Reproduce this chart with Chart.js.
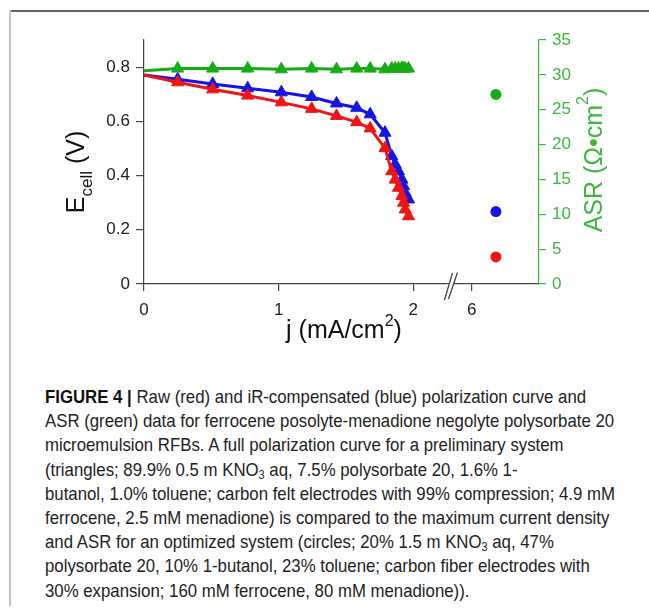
<!DOCTYPE html>
<html>
<head>
<meta charset="utf-8">
<script src="https://cdn.jsdelivr.net/npm/chart.js@4.4.1/dist/chart.umd.min.js"></script>
<style>
    html, body { margin: 0; padding: 0; background: #fff; }
    body { width: 649px; height: 612px; position: relative; overflow: hidden; }
    #frameTop { position: absolute; left: 9px; right: 0; top: 10px; border-top: 2px solid #666; }
    #frameLeft { position: absolute; left: 9px; top: 10px; height: 596px; border-left: 2px solid #c4c4c4; }
    #chartBox { position: absolute; left: 0; top: 0; width: 649px; height: 360px; }
    #caption {
        position: absolute; left: 45px; top: 385px;
        font-family: "Liberation Sans", Arial, sans-serif;
        font-size: 18.5px; line-height: 24.2px; color: #222; white-space: nowrap;
        transform-origin: 0 0;
    }
    #caption .ln { display: block; width: max-content; }
    #caption b { font-weight: bold; color: #111; }
    #caption sub { font-size: 0.65em; line-height: 0; vertical-align: -0.25em; }
</style>
</head>
<body>
<div id="frameTop"></div>
<div id="frameLeft"></div>
<div id="chartBox"><canvas id="myChart" width="649" height="360"></canvas></div>
<div id="caption">
<span class="ln"><b>FIGURE 4 |</b> Raw (red) and iR-compensated (blue) polarization curve and</span>
<span class="ln">ASR (green) data for ferrocene posolyte-menadione negolyte polysorbate 20</span>
<span class="ln">microemulsion RFBs. A full polarization curve for a preliminary system</span>
<span class="ln">(triangles; 89.9% 0.5 m KNO<sub>3</sub> aq, 7.5% polysorbate 20, 1.6% 1-</span>
<span class="ln" id="longLine">butanol, 1.0% toluene; carbon felt electrodes with 99% compression; 4.9 mM</span>
<span class="ln">ferrocene, 2.5 mM menadione) is compared to the maximum current density</span>
<span class="ln">and ASR for an optimized system (circles; 20% 1.5 m KNO<sub>3</sub> aq, 47%</span>
<span class="ln">polysorbate 20, 10% 1-butanol, 23% toluene; carbon fiber electrodes with</span>
<span class="ln">30% expansion; 160 mM ferrocene, 80 mM menadione)).</span>
</div>

<script>
// preliminary system (triangles) - current density j (mA/cm2)
const jTriangles = [0, 0.25, 0.51, 0.77, 1.02, 1.245, 1.43, 1.58, 1.68, 1.79, 1.84, 1.866, 1.89, 1.916, 1.928, 1.94, 1.965];
// raw cell voltage (V)
const eRaw = [0.771, 0.744, 0.718, 0.695, 0.670, 0.646, 0.620, 0.597, 0.574, 0.501, 0.416, 0.385, 0.355, 0.325, 0.300, 0.275, 0.250];
// iR-compensated cell voltage (V)
const eCompensated = [0.771, 0.755, 0.738, 0.722, 0.707, 0.690, 0.666, 0.650, 0.626, 0.558, 0.472, 0.441, 0.416, 0.385, 0.361, 0.336, 0.312];
// area specific resistance (ohm cm2)
const asrTriangles = [30.6, 30.9, 30.9, 30.9, 30.8, 30.9, 30.8, 30.9, 30.9, 30.8, 30.9, 30.9, 30.9, 31.0, 30.9, 30.9, 30.9];

// optimized system (circles)
const jCircle = 6.18;
const eRawCircle = 0.10;
const eCompensatedCircle = 0.267;
const asrCircle = 27.2;

// tick labels
const xTickLabels = [0, 1, 2, 6];
const yTickLabels = [0, 0.2, 0.4, 0.6, 0.8];
const asrTickLabels = [0, 5, 10, 15, 20, 25, 30, 35];

// broken x axis: values past the break are shifted left
const breakAt = 2.28;
const breakShift = 3.566;
function toAxis(j) {
    return j > 4 ? j - breakShift : j;
}

const RED = '#f01414';
const BLUE = '#1414e6';
const GREEN = '#16ac16';
const GREEN_AXIS = '#3cb83c';
const AXIS = '#444';
const FONT = '"Liberation Sans", Arial, sans-serif';

function pairs(xs, ys) {
    return xs.map((x, i) => ({ x: toAxis(x), y: ys[i] }));
}

// hide the marker of the open-circuit point sitting on the axis
const triRadius = (c) => (c.dataIndex === 0 ? 0 : 7);

function lineSet(label, data, color, axis) {
    return {
        type: 'line',
        label: label,
        data: data,
        yAxisID: axis,
        borderColor: color,
        backgroundColor: color,
        borderWidth: 3,
        pointStyle: 'triangle',
        pointRadius: triRadius,
        pointBorderWidth: 1,
        pointBackgroundColor: color,
        pointBorderColor: color,
        tension: 0,
    };
}

function circleSet(label, x, y, color, axis) {
    return {
        type: 'scatter',
        label: label,
        data: [{ x: toAxis(x), y: y }],
        yAxisID: axis,
        pointStyle: 'circle',
        pointRadius: 5.5,
        pointBackgroundColor: color,
        pointBorderColor: color,
        borderWidth: 0,
    };
}

// draws a title made of pieces (for sub/superscripts)
function drawRuns(ctx, runs, cx, cy, angle, color) {
    ctx.save();
    ctx.translate(cx, cy);
    ctx.rotate(angle);
    ctx.fillStyle = color;
    ctx.textAlign = 'left';
    ctx.textBaseline = 'alphabetic';
    let total = 0;
    runs.forEach(r => {
        ctx.font = r.size + 'px ' + FONT;
        r.w = ctx.measureText(r.text).width;
        total += r.w;
    });
    let x = -total / 2;
    runs.forEach(r => {
        ctx.font = r.size + 'px ' + FONT;
        ctx.fillText(r.text, x, r.dy);
        x += r.w;
    });
    ctx.restore();
}

const titlesPlugin = {
    id: 'titles',
    afterDraw(chart) {
        const ctx = chart.ctx;
        const xs = chart.scales.x;

        drawRuns(ctx, [
            { text: 'j (mA/cm', size: 25, dy: 0 },
            { text: '2', size: 16, dy: -12 },
            { text: ')', size: 25, dy: 0 },
        ], 344, 338, 0, '#111');

        drawRuns(ctx, [
            { text: 'E', size: 25, dy: 0 },
            { text: 'cell', size: 17, dy: 8 },
            { text: ' (V)', size: 25, dy: 0 },
        ], 84, 172, -Math.PI / 2, '#111');

        drawRuns(ctx, [
            { text: 'ASR (\u03A9\u2022cm', size: 25, dy: 0 },
            { text: '2', size: 16, dy: -14 },
            { text: ')', size: 25, dy: 0 },
        ], 602, 160, -Math.PI / 2, GREEN_AXIS);

        // axis break marks "//"
        const bx = xs.getPixelForValue(breakAt);
        const by = xs.top;
        ctx.save();
        ctx.fillStyle = '#fff';
        ctx.fillRect(bx - 2, by - 2, 4.5, 4);
        ctx.strokeStyle = AXIS;
        ctx.lineWidth = 1.3;
        ctx.beginPath();
        ctx.moveTo(bx - 6.5, by + 16);
        ctx.lineTo(bx + 1.5, by - 11);
        ctx.moveTo(bx - 2.5, by + 15);
        ctx.lineTo(bx + 6.5, by - 11.5);
        ctx.stroke();
        ctx.restore();
    }
};

function createChart() {
    const ctx = document.getElementById('myChart').getContext('2d');

    new Chart(ctx, {
        data: {
            datasets: [
                lineSet('ASR', pairs(jTriangles, asrTriangles), GREEN, 'y1'),
                lineSet('Raw', pairs(jTriangles, eRaw), RED, 'y'),
                lineSet('iR-compensated', pairs(jTriangles, eCompensated), BLUE, 'y'),
                circleSet('ASR optimized', jCircle, asrCircle, GREEN, 'y1'),
                circleSet('iR-compensated optimized', jCircle, eCompensatedCircle, BLUE, 'y'),
                circleSet('Raw optimized', jCircle, eRawCircle, RED, 'y'),
            ],
        },
        options: {
            responsive: false,
            animation: false,
            layout: { padding: { top: 40, left: 0, right: 0, bottom: 0 } },
            plugins: { legend: { display: false }, tooltip: { enabled: false } },
            scales: {
                x: {
                    type: 'linear',
                    min: 0,
                    max: toAxis(6.5),
                    afterBuildTicks: (s) => { s.ticks = xTickLabels.map(v => ({ value: toAxis(v) })); },
                    afterFit: (s) => { s.height = 76; },
                    ticks: {
                        callback: (v, i) => String(xTickLabels[i]),
                        color: '#222',
                        font: { family: FONT, size: 17 },
                        padding: 9,
                        maxRotation: 0,
                    },
                    grid: { drawOnChartArea: false, tickLength: 7, color: AXIS, lineWidth: 1.2 },
                    border: { color: AXIS, width: 1.2 },
                },
                y: {
                    position: 'left',
                    min: 0,
                    max: 0.9,
                    afterBuildTicks: (s) => { s.ticks = yTickLabels.map(v => ({ value: v })); },
                    afterFit: (s) => { s.width = 144; },
                    ticks: {
                        callback: (v) => (v === 0 ? '0' : v.toFixed(1)),
                        color: '#222',
                        font: { family: FONT, size: 17 },
                        padding: 6,
                    },
                    grid: { drawOnChartArea: false, tickLength: 8, color: AXIS, lineWidth: 1.2 },
                    border: { color: AXIS, width: 1.2 },
                },
                y1: {
                    position: 'right',
                    min: 0,
                    max: 35,
                    afterBuildTicks: (s) => { s.ticks = asrTickLabels.map(v => ({ value: v })); },
                    afterFit: (s) => { s.width = 110; },
                    ticks: {
                        color: GREEN_AXIS,
                        font: { family: FONT, size: 17 },
                        padding: 6,
                    },
                    grid: { drawOnChartArea: false, tickLength: 7, color: GREEN_AXIS, lineWidth: 1.2 },
                    border: { color: GREEN_AXIS, width: 1.2 },
                },
            },
        },
        plugins: [titlesPlugin],
    });
}

// the caption font in the figure is condensed; squeeze the block to the same width
function fitCaption() {
    const caption = document.getElementById('caption');
    const longest = document.getElementById('longLine').getBoundingClientRect().width;
    caption.style.transform = 'scaleX(' + (570 / longest) + ')';
}

createChart();
fitCaption();
</script>
</body>
</html>
